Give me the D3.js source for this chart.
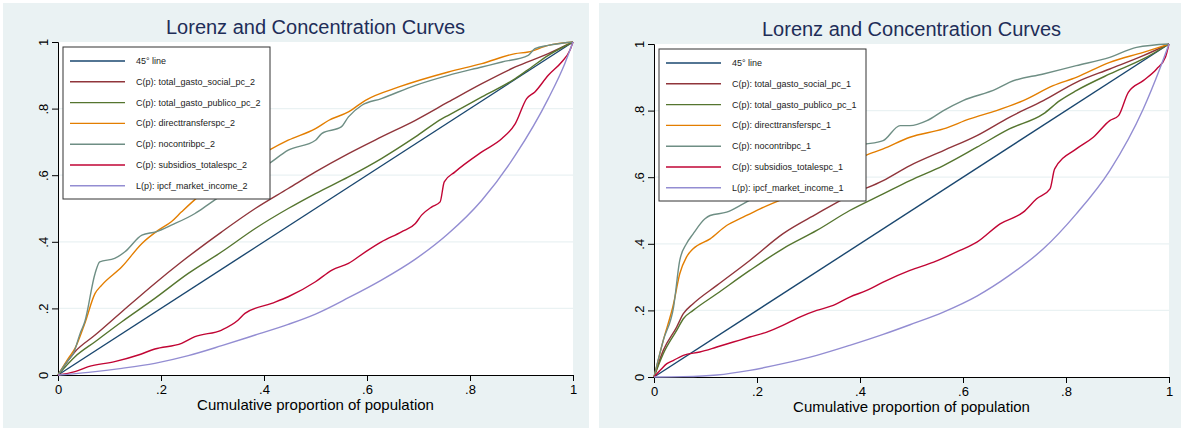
<!DOCTYPE html>
<html>
<head>
<meta charset="utf-8">
<script src="https://cdn.jsdelivr.net/npm/d3@7"></script>
<style>
body { margin: 0; background: #fff; }
text { font-family: "Liberation Sans", Arial, sans-serif; }
</style>
</head>
<body>
<svg width="1184" height="430"></svg>
<script>
// values, [p, C(p)] pairs

const ticks = [0, .2, .4, .6, .8, 1]
const chartTitle = "Lorenz and Concentration Curves"
const xTitle = "Cumulative proportion of population"

const seriesNames = ["45° line", "C(p): total_gasto_social_pc", "C(p): total_gasto_publico_pc",
	"C(p): directtransferspc", "C(p): nocontribpc", "C(p): subsidios_totalespc", "L(p): ipcf_market_income"]
const seriesColors = ["#1a476f", "#90353b", "#55752f", "#e37e00", "#6e8e84", "#c10534", "#938dd2"]

const line45 = [[0,0],[1,1]]

//left panel (_2)
const leftSocial = [[0,0],[0.033,0.07],[0.072,0.12],[0.124,0.19],[0.188,0.275],[0.24,0.34],[0.318,0.43],[0.383,0.5],[0.447,0.56],[0.5,0.61],[0.564,0.665],[0.628,0.715],[0.694,0.765],[0.758,0.82],[0.823,0.875],[0.888,0.925],[0.952,0.965],[1,1]]
const leftPublico = [[0,0],[0.033,0.055],[0.072,0.1],[0.124,0.16],[0.188,0.23],[0.253,0.305],[0.318,0.37],[0.383,0.44],[0.447,0.5],[0.5,0.545],[0.564,0.595],[0.628,0.65],[0.694,0.715],[0.746,0.77],[0.758,0.78],[0.823,0.835],[0.888,0.89],[0.92,0.925],[0.952,0.96],[1,1]]
const leftDirect = [[0,0],[0.02,0.05],[0.033,0.08],[0.052,0.155],[0.072,0.245],[0.085,0.27],[0.124,0.325],[0.163,0.395],[0.195,0.435],[0.22,0.46],[0.24,0.49],[0.272,0.535],[0.33,0.595],[0.41,0.675],[0.447,0.705],[0.5,0.74],[0.526,0.765],[0.564,0.79],[0.597,0.825],[0.662,0.865],[0.758,0.91],[0.823,0.935],[0.888,0.965],[0.913,0.97],[0.952,0.99],[1,1]]
const leftNocontrib = [[0,0],[0.02,0.045],[0.03,0.065],[0.043,0.125],[0.052,0.16],[0.072,0.305],[0.081,0.34],[0.11,0.35],[0.13,0.37],[0.163,0.42],[0.19,0.43],[0.22,0.45],[0.266,0.485],[0.29,0.51],[0.35,0.575],[0.41,0.635],[0.447,0.675],[0.5,0.705],[0.512,0.725],[0.55,0.745],[0.564,0.775],[0.59,0.81],[0.628,0.83],[0.694,0.87],[0.758,0.9],[0.823,0.925],[0.862,0.94],[0.913,0.96],[0.926,0.98],[0.952,0.99],[1,1]]
const leftSubsidios = [[0,0],[0.033,0.01],[0.059,0.025],[0.11,0.04],[0.156,0.06],[0.188,0.078],[0.24,0.095],[0.266,0.115],[0.318,0.135],[0.35,0.165],[0.363,0.185],[0.415,0.215],[0.447,0.235],[0.5,0.28],[0.532,0.315],[0.564,0.335],[0.597,0.37],[0.628,0.4],[0.667,0.43],[0.694,0.455],[0.706,0.48],[0.726,0.505],[0.742,0.52],[0.75,0.58],[0.771,0.61],[0.823,0.67],[0.862,0.71],[0.888,0.755],[0.91,0.83],[0.926,0.85],[0.952,0.9],[0.978,0.94],[0.994,0.975],[1,1]]
const leftLorenz = [[0,0],[0.059,0.008],[0.124,0.02],[0.188,0.035],[0.253,0.058],[0.318,0.088],[0.383,0.12],[0.447,0.152],[0.5,0.183],[0.564,0.232],[0.628,0.285],[0.694,0.348],[0.758,0.425],[0.823,0.525],[0.888,0.66],[0.952,0.83],[0.984,0.935],[1,1]]

//right panel (_1)
const rightSocial = [[0,0],[0.018,0.08],[0.044,0.15],[0.057,0.19],[0.076,0.22],[0.122,0.275],[0.186,0.35],[0.25,0.43],[0.316,0.49],[0.38,0.545],[0.445,0.59],[0.497,0.635],[0.562,0.68],[0.627,0.725],[0.69,0.78],[0.756,0.83],[0.82,0.885],[0.885,0.925],[0.95,0.965],[1,1]]
const rightPublico = [[0,0],[0.018,0.07],[0.044,0.14],[0.057,0.175],[0.076,0.2],[0.122,0.25],[0.186,0.32],[0.25,0.385],[0.316,0.44],[0.38,0.5],[0.445,0.55],[0.497,0.59],[0.562,0.635],[0.627,0.69],[0.69,0.745],[0.756,0.79],[0.788,0.83],[0.82,0.86],[0.885,0.91],[0.95,0.955],[1,1]]
const rightDirect = [[0,0],[0.018,0.11],[0.038,0.22],[0.05,0.31],[0.063,0.36],[0.076,0.385],[0.109,0.415],[0.141,0.455],[0.173,0.48],[0.206,0.505],[0.25,0.535],[0.33,0.6],[0.41,0.665],[0.445,0.685],[0.497,0.72],[0.562,0.745],[0.613,0.775],[0.665,0.8],[0.717,0.83],[0.775,0.875],[0.82,0.9],[0.885,0.945],[0.95,0.975],[1,1]]
const rightNocontrib = [[0,0],[0.018,0.11],[0.038,0.21],[0.05,0.35],[0.063,0.4],[0.076,0.43],[0.099,0.475],[0.109,0.485],[0.141,0.495],[0.173,0.52],[0.25,0.59],[0.33,0.655],[0.38,0.695],[0.413,0.7],[0.445,0.71],[0.478,0.755],[0.497,0.755],[0.53,0.77],[0.562,0.8],[0.6,0.83],[0.665,0.865],[0.69,0.885],[0.756,0.91],[0.82,0.935],[0.885,0.96],[0.937,0.99],[1,1]]
const rightSubsidios = [[0,0],[0.012,0.02],[0.025,0.04],[0.038,0.05],[0.057,0.065],[0.089,0.075],[0.122,0.09],[0.154,0.105],[0.186,0.12],[0.219,0.135],[0.25,0.155],[0.283,0.18],[0.316,0.2],[0.348,0.215],[0.38,0.24],[0.413,0.26],[0.445,0.285],[0.497,0.32],[0.543,0.345],[0.594,0.38],[0.627,0.405],[0.672,0.46],[0.717,0.495],[0.743,0.535],[0.769,0.565],[0.778,0.625],[0.82,0.685],[0.853,0.72],[0.885,0.77],[0.902,0.785],[0.921,0.855],[0.95,0.89],[0.976,0.925],[0.993,0.96],[1,1]]
const rightLorenz = [[0,0],[0.057,0.001],[0.122,0.006],[0.186,0.02],[0.25,0.04],[0.316,0.065],[0.38,0.095],[0.445,0.128],[0.497,0.157],[0.562,0.195],[0.627,0.243],[0.69,0.305],[0.756,0.385],[0.82,0.49],[0.885,0.62],[0.95,0.805],[0.982,0.925],[1,1]]

const leftSeries = [line45, leftSocial, leftPublico, leftDirect, leftNocontrib, leftSubsidios, leftLorenz]
const rightSeries = [line45, rightSocial, rightPublico, rightDirect, rightNocontrib, rightSubsidios, rightLorenz]


const svg = d3.select("svg")

const fmt = d => d == 0 ? "0" : d == 1 ? "1" : String(d).replace(/^0/, "")

function drawPanel(bg, left, top, series, suffix) {
	const w = 515, h = 333

	const g = svg.append("g")

	//panel background
	g.append("rect")
		.attr("x", bg[0]).attr("y", bg[1])
		.attr("width", bg[2]).attr("height", bg[3])
		.attr("fill", "#eaf2f3")

	const x = d3.scaleLinear().domain([0, 1]).range([left, left + w])
	const y = d3.scaleLinear().domain([0, 1]).range([top + h, top])

	//plot region
	g.append("rect")
		.attr("x", left).attr("y", top)
		.attr("width", w).attr("height", h)
		.attr("fill", "#fff")

	//grid
	g.selectAll("line.grid")
		.data(ticks.slice(1, -1))
		.enter()
		.append("line")
		.attr("class", "grid")
		.attr("x1", left).attr("x2", left + w)
		.attr("y1", d => y(d)).attr("y2", d => y(d))
		.attr("stroke", "#eaf2f3")
		.attr("stroke-width", 1.2)

	//title
	g.append("text")
		.attr("x", left + w / 2)
		.attr("y", top - 8)
		.attr("text-anchor", "middle")
		.attr("font-size", 20)
		.attr("fill", "#1e2d58")
		.text(chartTitle)

	//axes
	const xAxis = g.append("g")
		.attr("transform", `translate(0,${top + h})`)
		.call(d3.axisBottom(x).tickValues(ticks).tickFormat(fmt).tickSize(6).tickPadding(4))
	const yAxis = g.append("g")
		.attr("transform", `translate(${left},0)`)
		.call(d3.axisLeft(y).tickValues(ticks).tickFormat(fmt).tickSize(6).tickPadding(3))

	for (const ax of [xAxis, yAxis]) {
		ax.select(".domain").attr("stroke", "#000")
		ax.selectAll(".tick line").attr("stroke", "#000")
		ax.selectAll("text").attr("font-size", 13).attr("fill", "#000")
			.attr("font-family", "Liberation Sans, Arial, sans-serif")
	}
	yAxis.selectAll(".tick text")
		.attr("transform", "rotate(-90)")
		.attr("text-anchor", "middle")
		.attr("x", 0)
		.attr("y", -10)
		.attr("dy", 0)

	g.append("text")
		.attr("x", left + w / 2)
		.attr("y", top + h + 35)
		.attr("text-anchor", "middle")
		.attr("font-size", 15)
		.attr("fill", "#000")
		.text(xTitle)

	//curves
	const line = d3.line()
		.x(d => x(d[0]))
		.y(d => y(d[1]))
		.curve(d3.curveMonotoneX)

	g.selectAll("path.curve")
		.data(series)
		.enter()
		.append("path")
		.attr("class", "curve")
		.attr("d", line)
		.attr("fill", "none")
		.attr("stroke", (d, i) => seriesColors[i])
		.attr("stroke-width", 1.4)

	//legend
	const lg = g.append("g").attr("transform", `translate(${left + 5},${top + 5})`)
	lg.append("rect")
		.attr("width", 207).attr("height", 152)
		.attr("fill", "#fff")
		.attr("stroke", "#333")
		.attr("stroke-width", 1)

	const rows = lg.selectAll("g.row")
		.data(seriesNames)
		.enter()
		.append("g")
		.attr("class", "row")
		.attr("transform", (d, i) => `translate(0,${14 + i * 20.8})`)

	rows.append("line")
		.attr("x1", 7).attr("x2", 62)
		.attr("stroke", (d, i) => seriesColors[i])
		.attr("stroke-width", 1.4)

	rows.append("text")
		.attr("x", 73)
		.attr("y", 3)
		.attr("font-size", 9)
		.attr("fill", "#222")
		.text((d, i) => i == 0 ? d : d + suffix)
}

drawPanel([3, 3, 586, 425], 58, 42, leftSeries, "_2")
drawPanel([599, 3, 582, 425], 654, 44, rightSeries, "_1")
</script>
</body>
</html>
